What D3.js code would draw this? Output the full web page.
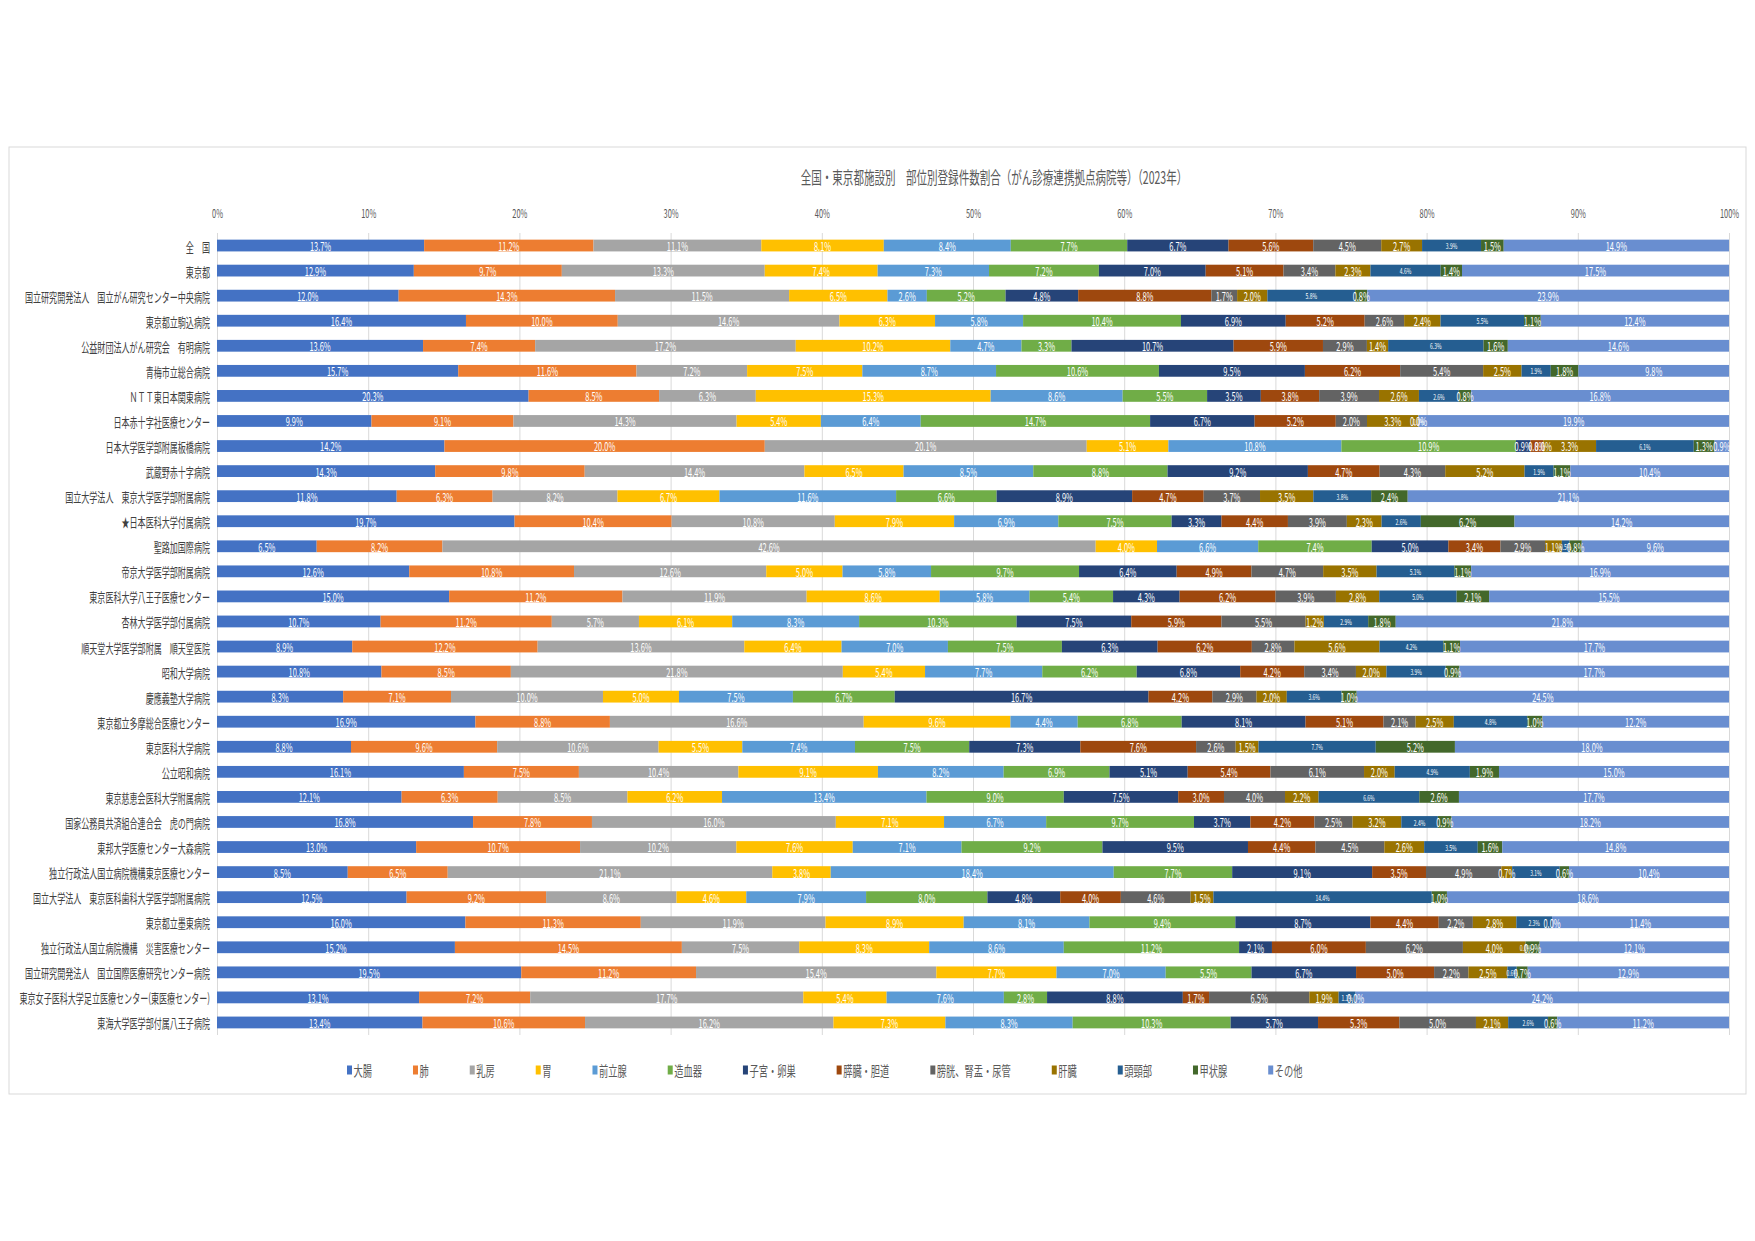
<!DOCTYPE html>
<html lang="ja">
<head>
<meta charset="utf-8">
<script src="https://cdn.jsdelivr.net/npm/d3@7"></script>
<style>
  html, body { margin: 0; padding: 0; background: #ffffff; }
  svg { display: block; font-family: "Noto Sans CJK JP", "Noto Sans", sans-serif; }
</style>
</head>
<body>
<svg id="chart" width="1755" height="1241"></svg>
<script>
// ---- data ----------------------------------------------------------------
const chartTitle = "全国・東京都施設別　部位別登録件数割合（がん診療連携拠点病院等）（2023年）";

const categories = [
  "全　国",
  "東京都",
  "国立研究開発法人　国立がん研究センター中央病院",
  "東京都立駒込病院",
  "公益財団法人がん研究会　有明病院",
  "青梅市立総合病院",
  "ＮＴＴ東日本関東病院",
  "日本赤十字社医療センター",
  "日本大学医学部附属板橋病院",
  "武蔵野赤十字病院",
  "国立大学法人　東京大学医学部附属病院",
  "★日本医科大学付属病院",
  "聖路加国際病院",
  "帝京大学医学部附属病院",
  "東京医科大学八王子医療センター",
  "杏林大学医学部付属病院",
  "順天堂大学医学部附属　順天堂医院",
  "昭和大学病院",
  "慶應義塾大学病院",
  "東京都立多摩総合医療センター",
  "東京医科大学病院",
  "公立昭和病院",
  "東京慈恵会医科大学附属病院",
  "国家公務員共済組合連合会　虎の門病院",
  "東邦大学医療センター大森病院",
  "独立行政法人国立病院機構東京医療センター",
  "国立大学法人　東京医科歯科大学医学部附属病院",
  "東京都立墨東病院",
  "独立行政法人国立病院機構　災害医療センター",
  "国立研究開発法人　国立国際医療研究センター病院",
  "東京女子医科大学足立医療センター(東医療センター)",
  "東海大学医学部付属八王子病院"
];

const seriesNames = ["大腸", "肺", "乳房", "胃", "前立腺", "造血器", "子宮・卵巣",
  "膵臓・胆道", "膀胱、腎盂・尿管", "肝臓", "頭頸部", "甲状腺", "その他"];

// share of registrations (%) per site, one value per category above
const colon     = [13.7,12.9,12.0,16.4,13.6,15.7,20.3,9.9,14.2,14.3,11.8,19.7,6.5,12.6,15.0,10.7,8.9,10.8,8.3,16.9,8.8,16.1,12.1,16.8,13.0,8.5,12.5,16.0,15.2,19.5,13.1,13.4];
const lung      = [11.2,9.7,14.3,10.0,7.4,11.6,8.5,9.1,20.0,9.8,6.3,10.4,8.2,10.8,11.2,11.2,12.2,8.5,7.1,8.8,9.6,7.5,6.3,7.8,10.7,6.5,9.2,11.3,14.5,11.2,7.2,10.6];
const breast    = [11.1,13.3,11.5,14.6,17.2,7.2,6.3,14.3,20.1,14.4,8.2,10.8,42.6,12.6,11.9,5.7,13.6,21.8,10.0,16.6,10.6,10.4,8.5,16.0,10.2,21.1,8.6,11.9,7.5,15.4,17.7,16.2];
const stomach   = [8.1,7.4,6.5,6.3,10.2,7.5,15.3,5.4,5.1,6.5,6.7,7.9,4.0,5.0,8.6,6.1,6.4,5.4,5.0,9.6,5.5,9.1,6.2,7.1,7.6,3.8,4.6,8.9,8.3,7.7,5.4,7.3];
const prostate  = [8.4,7.3,2.6,5.8,4.7,8.7,8.6,6.4,10.8,8.5,11.6,6.9,6.6,5.8,5.8,8.3,7.0,7.7,7.5,4.4,7.4,8.2,13.4,6.7,7.1,18.4,7.9,8.1,8.6,7.0,7.6,8.3];
const blood     = [7.7,7.2,5.2,10.4,3.3,10.6,5.5,14.7,10.9,8.8,6.6,7.5,7.4,9.7,5.4,10.3,7.5,6.2,6.7,6.8,7.5,6.9,9.0,9.7,9.2,7.7,8.0,9.4,11.2,5.5,2.8,10.3];
const uterus    = [6.7,7.0,4.8,6.9,10.7,9.5,3.5,6.7,0.9,9.2,8.9,3.3,5.0,6.4,4.3,7.5,6.3,6.8,16.7,8.1,7.3,5.1,7.5,3.7,9.5,9.1,4.8,8.7,2.1,6.7,8.8,5.7];
const pancreas  = [5.6,5.1,8.8,5.2,5.9,6.2,3.8,5.2,0.8,4.7,4.7,4.4,3.4,4.9,6.2,5.9,6.2,4.2,4.2,5.1,7.6,5.4,3.0,4.2,4.4,3.5,4.0,4.4,6.0,5.0,1.7,5.3];
const bladder   = [4.5,3.4,1.7,2.6,2.9,5.4,3.9,2.0,0.0,4.3,3.7,3.9,2.9,4.7,3.9,5.5,2.8,3.4,2.9,2.1,2.6,6.1,4.0,2.5,4.5,4.9,4.6,2.2,6.2,2.2,6.5,5.0];
const liver     = [2.7,2.3,2.0,2.4,1.4,2.5,2.6,3.3,3.3,5.2,3.5,2.3,1.1,3.5,2.8,1.2,5.6,2.0,2.0,2.5,1.5,2.0,2.2,3.2,2.6,0.7,1.5,2.8,4.0,2.5,1.9,2.1];
const headNeck  = [3.9,4.6,5.8,5.5,6.3,1.9,2.6,0.0,6.1,1.9,3.8,2.6,0.5,5.1,5.0,2.9,4.2,3.9,3.6,4.8,7.7,4.9,6.6,2.4,3.5,3.1,14.4,2.3,0.0,0.6,1.1,2.6];
const thyroid   = [1.5,1.4,0.8,1.1,1.6,1.8,0.8,0.0,1.3,1.1,2.4,6.2,0.8,1.1,2.1,1.8,1.1,0.9,1.0,1.0,5.2,1.9,2.6,0.9,1.6,0.6,1.0,0.0,0.9,0.7,0.0,0.6];
const other     = [14.9,17.5,23.9,12.4,14.6,9.8,16.8,19.9,0.9,10.4,21.1,14.2,9.6,16.9,15.5,21.8,17.7,17.7,24.5,12.2,18.0,15.0,17.7,18.2,14.8,10.4,18.6,11.4,12.1,12.9,24.2,11.2];

const seriesValues = [colon, lung, breast, stomach, prostate, blood, uterus,
  pancreas, bladder, liver, headNeck, thyroid, other];

const seriesColors = ["#4472C4", "#ED7D31", "#A5A5A5", "#FFC000", "#5B9BD5", "#70AD47",
  "#264478", "#9E480E", "#636363", "#997300", "#255E91", "#43682B", "#698ED0"];

const tickLabels = ["0%", "10%", "20%", "30%", "40%", "50%", "60%", "70%", "80%", "90%", "100%"];

// ---- layout --------------------------------------------------------------
const FONT = '"Noto Sans CJK JP", "Noto Sans", sans-serif';
const SX = 0.62;                 // horizontal text compression used throughout
const frame = { x: 9, y: 147, w: 1737, h: 947 };
const plot = { left: 217, right: 1729, top: 233, bottom: 1035 };

const svg = d3.select("#chart");

svg.append("rect")
  .attr("x", frame.x).attr("y", frame.y)
  .attr("width", frame.w).attr("height", frame.h)
  .attr("fill", "#ffffff").attr("stroke", "#d9d9d9").attr("stroke-width", 1);

// table for the stack
const rows = categories.map((c, i) => {
  const r = { category: c };
  seriesNames.forEach((s, k) => { r[s] = seriesValues[k][i]; });
  return r;
});

const stack = d3.stack().keys(seriesNames).offset(d3.stackOffsetExpand);
const layers = stack(rows);

const x = d3.scaleLinear().domain([0, 1]).range([plot.left, plot.right]);
const y = d3.scaleBand().domain(categories).range([plot.top, plot.bottom])
  .paddingInner(0.53).paddingOuter(0.265);
const color = d3.scaleOrdinal().domain(seriesNames).range(seriesColors);
const tickVals = d3.range(tickLabels.length).map(i => i / 10);

// title
svg.append("text")
  .attr("transform", `translate(994,177) scale(${SX},1)`)
  .attr("text-anchor", "middle").attr("dominant-baseline", "central")
  .attr("font-family", FONT).attr("font-size", 17).attr("fill", "#595959")
  .text(chartTitle);

// vertical gridlines
const grid = svg.append("g")
  .attr("transform", `translate(0,${plot.top})`)
  .call(d3.axisTop(x).tickValues(tickVals).tickFormat("").tickSize(-(plot.bottom - plot.top)));
grid.select(".domain").remove();
grid.selectAll("line").attr("stroke", "#d9d9d9").attr("stroke-width", 1);

// percentage axis along the top
const axisTop = svg.append("g")
  .attr("transform", "translate(0,213)")
  .call(d3.axisTop(x).tickValues(tickVals).tickFormat((d, i) => tickLabels[i]).tickSize(0).tickPadding(0));
axisTop.select(".domain").remove();
axisTop.attr("font-family", FONT).attr("font-size", 12);
axisTop.selectAll("text")
  .attr("y", 0).attr("dy", null)
  .attr("dominant-baseline", "central")
  .attr("transform", `scale(${SX},1)`)
  .attr("fill", "#595959");

// category axis
const axisLeft = svg.append("g")
  .attr("transform", "translate(210,0)")
  .call(d3.axisLeft(y).tickSize(0).tickPadding(0));
axisLeft.select(".domain").remove();
axisLeft.attr("font-family", FONT).attr("font-size", 13);
axisLeft.selectAll("text")
  .attr("x", 0).attr("dy", null)
  .attr("dominant-baseline", "central")
  .attr("transform", `scale(${SX},1)`)
  .attr("fill", "#404040");

// stacked bars
const layerG = svg.append("g").selectAll("g")
  .data(layers).join("g")
  .attr("fill", d => color(d.key));

layerG.selectAll("rect")
  .data(d => d)
  .join("rect")
  .attr("x", d => x(d[0]))
  .attr("y", d => y(d.data.category))
  .attr("width", d => Math.max(0, x(d[1]) - x(d[0])))
  .attr("height", y.bandwidth());

// value labels centred on each segment
const fmt = d3.format(".1f");
const labelG = svg.append("g").selectAll("g")
  .data(layers).join("g");

labelG.each(function (layer) {
  const small = layer.key === "頭頸部";
  d3.select(this).selectAll("text")
    .data(layer)
    .join("text")
    .attr("transform", d => {
      const cx = (x(d[0]) + x(d[1])) / 2;
      const cy = y(d.data.category) + y.bandwidth() / 2;
      return `translate(${cx},${cy}) scale(${SX},1)`;
    })
    .attr("text-anchor", "middle")
    .attr("dominant-baseline", "central")
    .attr("font-family", FONT)
    .attr("font-size", small ? 8 : 12)
    .attr("fill", "#ffffff")
    .text(d => fmt(d.data[layer.key]) + "%");
});

// legend
const legendY = 1070;
const legend = svg.append("g");
let lx = 347;
seriesNames.forEach(name => {
  const item = legend.append("g");
  item.append("rect")
    .attr("x", lx).attr("y", legendY - 4.5)
    .attr("width", 5).attr("height", 9)
    .attr("fill", color(name));
  const t = item.append("text")
    .attr("transform", `translate(${lx + 6.5},${legendY}) scale(${SX + 0.04},1)`)
    .attr("dominant-baseline", "central")
    .attr("font-family", FONT).attr("font-size", 14)
    .attr("fill", "#595959")
    .text(name);
  const w = t.node().getComputedTextLength() * (SX + 0.04);
  lx += 6.5 + w + 41;
});
</script>
</body>
</html>
